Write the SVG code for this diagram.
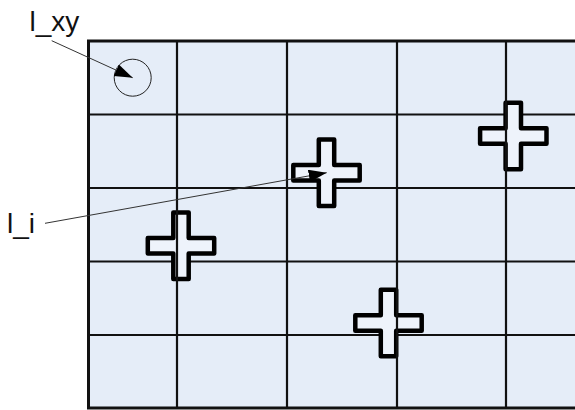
<svg xmlns="http://www.w3.org/2000/svg" width="575" height="410" viewBox="0 0 575 410">
<style>
.lbl{font-family:"Liberation Sans",Arial,sans-serif;font-size:28px;fill:#111}
.grid{stroke:#111;stroke-width:2.2;fill:none}
.cross{fill:#eef3fb;stroke:#000;stroke-width:4.5;stroke-linejoin:round}
.conn{stroke:#333;stroke-width:1;fill:none}
</style>
<defs>
<marker id="ah" markerUnits="userSpaceOnUse" markerWidth="20" markerHeight="14" refX="18" refY="6.25" orient="auto">
<path d="M0,0 L18,6.25 L0,12.5 z" fill="#000"/>
</marker>
<path id="crossShape" d="M-7.7,-33.2 h15.4 v25.5 h25.5 v15.4 h-25.5 v25.5 h-15.4 v-25.5 h-25.5 v-15.4 h25.5 z"/>
</defs>
<rect width="575" height="410" fill="#fff"/>
<g id="grid">
<rect x="88" y="41" width="490" height="367" fill="#e5edf8"/>
<g class="grid">
<line x1="88" y1="114.5" x2="578" y2="114.5"/>
<line x1="88" y1="188" x2="578" y2="188"/>
<line x1="88" y1="261.5" x2="578" y2="261.5"/>
<line x1="88" y1="335" x2="578" y2="335"/>
</g>
</g>
<g id="cross1"><use href="#crossShape" class="cross" x="326.5" y="172.7"/></g>
<g id="cross2"><use href="#crossShape" class="cross" x="513.3" y="136"/></g>
<g id="cross3"><use href="#crossShape" class="cross" x="181" y="245.7"/></g>
<g id="cross4"><use href="#crossShape" class="cross" x="388.5" y="323"/></g>
<g id="gridv" class="grid">
<line x1="177" y1="41" x2="177" y2="408"/>
<line x1="287" y1="41" x2="287" y2="408"/>
<line x1="397" y1="41" x2="397" y2="408"/>
<line x1="506" y1="41" x2="506" y2="408"/>
<path d="M580,41 H88.5 V408 H580" stroke-width="3"/>
</g>
<g id="circle"><circle cx="132.7" cy="77.7" r="18.5" fill="none" stroke="#222" stroke-width="1"/></g>
<g id="label-lxy"><text class="lbl" x="29.5" y="31">l_xy</text></g>
<g id="label-li"><text class="lbl" x="7" y="233">l_i</text></g>
<g id="connectors">
<line class="conn" x1="51.7" y1="40.7" x2="132.7" y2="77.7" marker-end="url(#ah)"/>
<line class="conn" x1="45" y1="223.3" x2="326.7" y2="172.7" marker-end="url(#ah)"/>
</g>
</svg>
